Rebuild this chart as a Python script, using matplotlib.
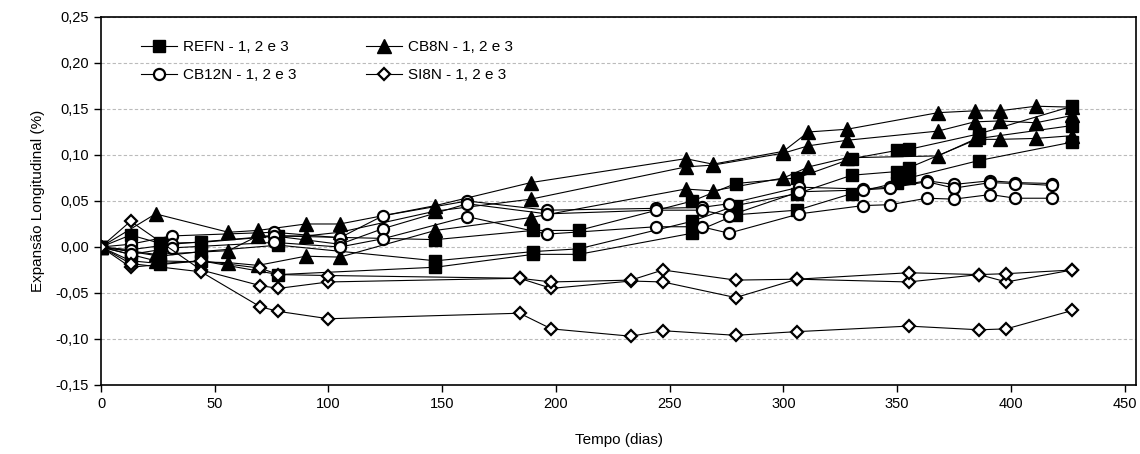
import numpy as np
import matplotlib.pyplot as plt
from matplotlib.ticker import FuncFormatter

plt.rcParams['font.family'] = ['Liberation Sans', 'DejaVu Sans']

# REFN - squares
refn_days = [0, 13, 26, 44, 78, 147, 190, 210, 260, 279, 306, 330, 350, 355, 386, 427]
refn_1 = [0, 0.013, 0.004, 0.005, 0.012, 0.008, 0.018, 0.018, 0.050, 0.069, 0.075, 0.096, 0.105, 0.106, 0.123, 0.153]
refn_2 = [0, -0.005, -0.010, -0.005, 0.002, -0.015, -0.005, -0.002, 0.028, 0.045, 0.058, 0.078, 0.082, 0.086, 0.118, 0.132]
refn_3 = [0, -0.015, -0.018, -0.015, -0.030, -0.022, -0.008, -0.008, 0.015, 0.035, 0.040, 0.058, 0.070, 0.075, 0.094, 0.114]

# CB8N - triangles
cb8_days = [0, 24, 56, 69, 90, 105, 147, 189, 257, 269, 300, 311, 328, 368, 384, 395, 411, 427]
cb8_1 = [0, 0.036, 0.016, 0.018, 0.025, 0.025, 0.045, 0.070, 0.096, 0.090, 0.104, 0.125, 0.128, 0.146, 0.148, 0.148, 0.153, 0.152]
cb8_2 = [0, -0.008, -0.004, 0.012, 0.012, 0.016, 0.039, 0.052, 0.087, 0.089, 0.102, 0.110, 0.116, 0.126, 0.136, 0.137, 0.135, 0.143]
cb8_3 = [0, -0.015, -0.017, -0.020, -0.010, -0.011, 0.018, 0.032, 0.063, 0.061, 0.075, 0.087, 0.097, 0.099, 0.117, 0.117, 0.118, 0.121]

# CB12N - open circles
cb12_days = [0, 13, 31, 76, 105, 124, 161, 196, 244, 264, 276, 307, 335, 347, 363, 375, 391, 402, 418]
cb12_1 = [0, 0.003, 0.012, 0.016, 0.010, 0.034, 0.050, 0.040, 0.042, 0.043, 0.047, 0.065, 0.063, 0.065, 0.072, 0.068, 0.072, 0.070, 0.069]
cb12_2 = [0, -0.003, 0.003, 0.012, 0.003, 0.020, 0.047, 0.036, 0.040, 0.040, 0.034, 0.060, 0.062, 0.064, 0.071, 0.064, 0.070, 0.069, 0.067]
cb12_3 = [0, -0.008, -0.001, 0.005, 0.000, 0.009, 0.033, 0.014, 0.022, 0.022, 0.015, 0.036, 0.045, 0.046, 0.053, 0.052, 0.057, 0.053, 0.053]

# SI8N - open diamonds
si8_days = [0, 13, 44, 70, 78, 100, 184, 198, 233, 247, 279, 306, 355, 386, 398, 427]
si8_1 = [0, 0.028, -0.025, -0.042, -0.045, -0.038, -0.034, -0.045, -0.037, -0.038, -0.055, -0.035, -0.038, -0.030, -0.038, -0.025]
si8_2 = [0, -0.022, -0.015, -0.023, -0.030, -0.031, -0.034, -0.038, -0.036, -0.025, -0.036, -0.035, -0.028, -0.030, -0.029, -0.025]
si8_3 = [0, -0.018, -0.027, -0.065, -0.070, -0.078, -0.072, -0.089, -0.097, -0.091, -0.096, -0.092, -0.086, -0.090, -0.089, -0.069]

fig = plt.figure(figsize=(11.4, 4.54), dpi=100)
ax = fig.add_axes([0.0886, 0.152, 0.9079, 0.8106])

groups = [
    ('REFN - 1, 2 e 3', refn_days, [refn_1, refn_2, refn_3], dict(marker='s', ms=8.5, mfc='black', mec='black')),
    ('CB8N - 1, 2 e 3', cb8_days, [cb8_1, cb8_2, cb8_3], dict(marker='^', ms=9.5, mfc='black', mec='black')),
    ('CB12N - 1, 2 e 3', cb12_days, [cb12_1, cb12_2, cb12_3], dict(marker='o', ms=8, mfc='white', mec='black', mew=1.6)),
    ('SI8N - 1, 2 e 3', si8_days, [si8_1, si8_2, si8_3], dict(marker='D', ms=6, mfc='white', mec='black', mew=1.6)),
]

handles = {}
for label, days, series, style in groups:
    for i, vals in enumerate(series):
        ln, = ax.plot(days, vals, color='black', lw=0.8, label=label if i == 0 else None, **style)
        if i == 0:
            handles[label] = ln

ax.set_xlim(0, 455)
ax.set_ylim(-0.15, 0.25)
ax.set_xticks(np.arange(0, 451, 50))
ax.set_yticks(np.arange(-0.15, 0.251, 0.05))
ax.yaxis.set_major_formatter(FuncFormatter(lambda v, p: ('%.2f' % v).replace('.', ',').replace('-0,00', '0,00')))
ax.tick_params(labelsize=10.5, direction='out', length=5, width=1, colors='black')
ax.grid(axis='y', color='#bbbbbb', linestyle=(0, (3, 2)), linewidth=0.8)
ax.set_axisbelow(True)
for s in ax.spines.values():
    s.set_linewidth(1.2)
    s.set_color('black')

ax.set_xlabel('Tempo (dias)', fontsize=11, labelpad=16)
ax.set_ylabel('Expansão Longitudinal (%)', fontsize=11, labelpad=8)

order = ['REFN - 1, 2 e 3', 'CB12N - 1, 2 e 3', 'CB8N - 1, 2 e 3', 'SI8N - 1, 2 e 3']
ax.legend([handles[k] for k in order], order, ncol=2, loc='upper left', bbox_to_anchor=(0.025, 0.975),
          frameon=False, fontsize=11, handlelength=2.4, columnspacing=4.5, labelspacing=0.95, handletextpad=0.4)

fig.savefig('out.png', dpi=100)
